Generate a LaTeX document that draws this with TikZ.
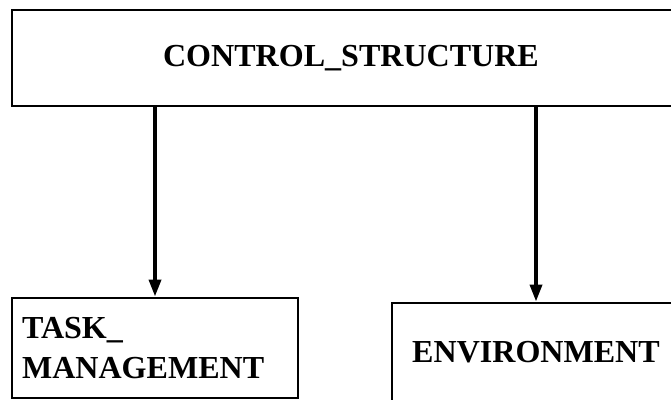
\documentclass[tikz,border=0pt]{standalone}
\usepackage{fontspec}
\setmainfont{Liberation Serif}
\usetikzlibrary{arrows.meta,positioning}
\tikzset{
  box/.style={rectangle,draw=black,line width=2.1pt,fill=white,
              text=black,font=\fontsize{22.8}{28}\selectfont\bfseries,
              align=center},
  arr/.style={-{Triangle[length=12pt,width=8.5pt]},line width=2.5pt,#1},
  arr/.default=black,
}
\begin{document}
\begin{tikzpicture}

  \useasboundingbox (0,0) rectangle (16.775,-10);

  \node[box,minimum width=16.95cm,minimum height=2.4cm] (ctrl) at (8.775,-1.45)
        {CONTROL\_STRUCTURE};

  \node[box,text width=6.65cm,inner xsep=0.25cm,minimum height=2.5cm,align=left]
        (task) at (3.875,-8.7) {TASK\_\\MANAGEMENT};

  \node[box,minimum width=7.2cm,minimum height=2.475cm] (env) at (13.4,-8.8125)
        {ENVIRONMENT};

  \draw[arr] (task.north |- ctrl.south) -- (task.north);
  \draw[arr] (env.north |- ctrl.south) -- (env.north);

\end{tikzpicture}
\end{document}
